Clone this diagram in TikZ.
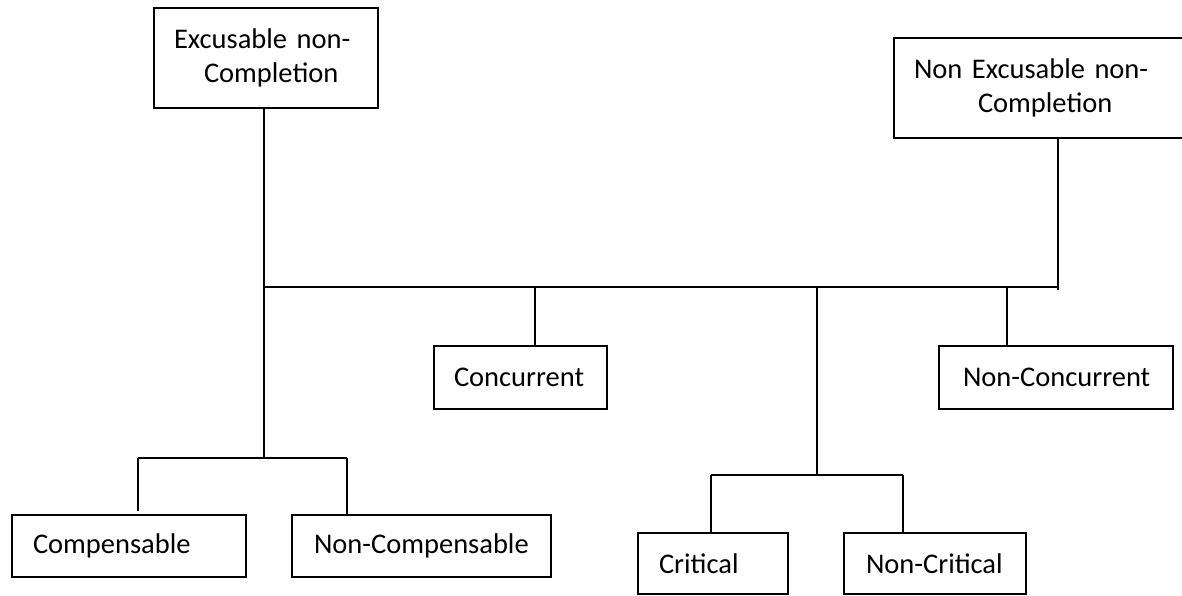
\documentclass[tikz,border=0pt]{standalone}
\usepackage{fontspec}
\setmainfont{Carlito}
\begin{document}
\begin{tikzpicture}[x=1pt,y=-1pt,
  box/.style={draw=black, line width=2pt, inner ysep=0pt, inner xsep=0pt,
    anchor=north west, align=left,
    font=\fontsize{28.5}{34}\selectfont, text=black},
  conn/.style={draw=black, line width=1.8pt}]
\useasboundingbox (0,0) rectangle (1182,595);
% boxes
\node[box, text width=224pt, minimum height=100pt] (exc) at (153,7)
  {\hspace*{20pt}Excusable non-\\\hspace*{50pt}Completion};
\node[box, text width=293pt, minimum height=100pt] (nonexc) at (893,37)
  {\hspace*{20pt}Non Excusable non-\\\hspace*{84pt}Completion};
\node[box, text width=173pt, minimum height=63pt] (conc) at (433,345)
  {\hspace*{20pt}Concurrent};
\node[box, text width=234pt, minimum height=63pt] (nconc) at (938,345)
  {\hspace*{24pt}Non-Concurrent};
\node[box, text width=234pt, minimum height=62pt] (comp) at (11,514)
  {\hspace*{21pt}Compensable};
\node[box, text width=259pt, minimum height=62pt] (ncomp) at (291,514)
  {\hspace*{22pt}Non-Compensable};
\node[box, text width=150pt, minimum height=61pt] (crit) at (637,532)
  {\hspace*{21pt}Critical};
\node[box, text width=182pt, minimum height=61pt] (ncrit) at (843,532)
  {\hspace*{22pt}Non-Critical};
% junction points
\coordinate (ja) at (264,287);
\coordinate (jb) at (1058,287);
\coordinate (jbe) at (1058,290);
\coordinate (jc) at (264,458);
\coordinate (jcl) at (138,458);
\coordinate (jcr) at (347,458);
\coordinate (jconc) at (535,287);
\coordinate (jnconc) at (1007,287);
\coordinate (jm) at (817,287);
\coordinate (jmb) at (817,475);
\coordinate (jml) at (711,475);
\coordinate (jmr) at (903,475);
% connectors
\draw[conn] (exc.south -| ja) -- (jc);
\draw[conn] (nonexc.south -| jb) -- (jbe);
\draw[conn] (ja) -- (jb);
\draw[conn] (jcl) -- (jcr);
\draw[conn] (jcl) -- ([yshift=3pt]comp.north -| jcl);
\draw[conn] (jcr) -- (ncomp.north -| jcr);
\draw[conn] (jconc) -- (conc.north -| jconc);
\draw[conn] (jnconc) -- (nconc.north -| jnconc);
\draw[conn] (jm) -- (jmb);
\draw[conn] (jml) -- (jmr);
\draw[conn] (jml) -- (crit.north -| jml);
\draw[conn] (jmr) -- (ncrit.north -| jmr);
\end{tikzpicture}
\end{document}
